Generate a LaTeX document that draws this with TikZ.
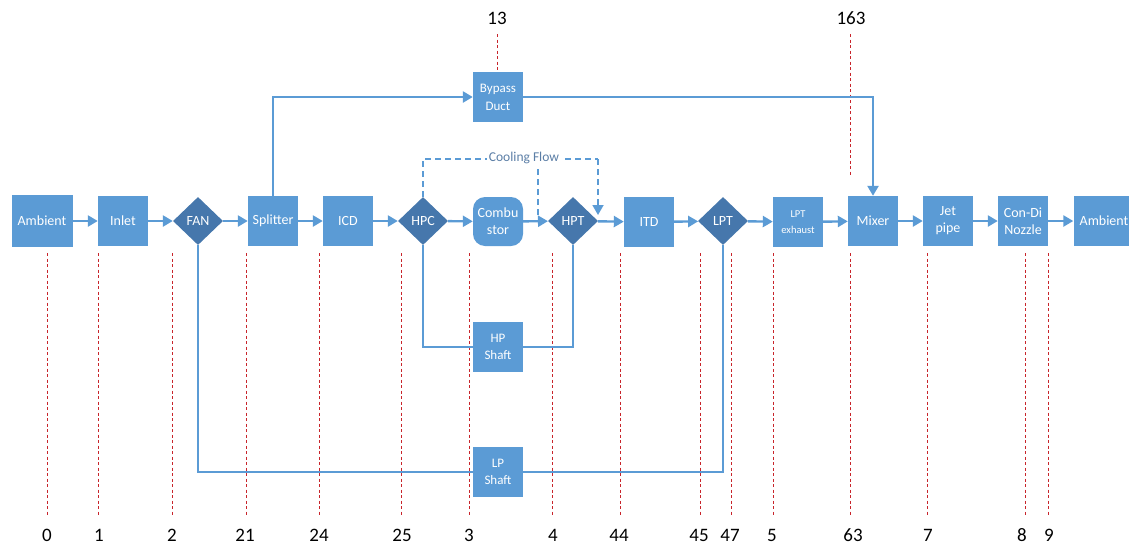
\documentclass[tikz,border=0pt]{standalone}
\usepackage{fontspec}
\setmainfont{Carlito}
\usetikzlibrary{arrows.meta,shapes.geometric}
\definecolor{boxblue}{HTML}{5B9BD5}
\definecolor{diablue}{HTML}{4677AC}
\definecolor{lineblue}{HTML}{5B9BD5}
\definecolor{coolgray}{HTML}{5B7EA6}
\definecolor{stationred}{HTML}{C8242B}
\tikzset{
  blk/.style={rectangle, fill=boxblue, draw=none, text=white, minimum width=50pt, minimum height=50pt, inner sep=1pt, align=center, font=\fontsize{14}{17}\selectfont},
  dia/.style={diamond, fill=diablue, draw=none, text=white, minimum width=50pt, minimum height=48pt, inner sep=0pt, shape aspect=1, font=\fontsize{14}{16}\selectfont},
  flow/.style={draw=lineblue, line width=2.4pt, -{Triangle[length=10pt,width=11pt]}},
  shaft/.style={draw=lineblue, line width=2.4pt},
  cool/.style={draw=lineblue, line width=1.8pt, dash pattern=on 6pt off 4pt},
  station/.style={draw=stationred, line width=0.8pt, dash pattern=on 3pt off 2.5pt},
  stlabel/.style={text=black, font=\fontsize{19}{21}\selectfont, inner sep=0pt}
}
\begin{document}
\begin{tikzpicture}[x=1pt,y=-1pt]
\useasboundingbox (0,0) rectangle (1129,544);
\clip (0,0) rectangle (1129,544);

% station lines (behind)
\foreach \n/\x/\lx in {0/47/47, 1/98/99, 2/172/172, 21/246/245, 24/319/319, 25/401/402, 3/469/469, 4/552/553, 44/620/619, 45/700/699, 47/731/730, 5/773/772, 63/850/853, 7/927/928, 8/1025/1022, 9/1048/1049}{
  \coordinate (st\n) at (\x,253);
  \coordinate (sb\n) at (\x,515);
  \node[stlabel] (lab\n) at (\lx,535) {\n};
  \draw[station] (st\n) -- (sb\n);
}
\node[stlabel] (lab13) at (497,18) {13};
\node[stlabel] (lab163) at (851,18) {163};
\coordinate (t13a) at (497,34);
\coordinate (t13b) at (497,72);
\coordinate (t163a) at (850,34);
\coordinate (t163b) at (850,176);
\draw[station] (t13a) -- (t13b);
\draw[station] (t163a) -- (t163b);

% main nodes
\node[blk, minimum width=61pt, minimum height=52pt] (amb0) at (42,221) {Ambient};
\node[blk] (inlet) at (123,221) {Inlet};
\node[dia] (fan) at (198,221) {FAN};
\node[blk] (split) at (273,221) {Splitter};
\node[blk] (icd) at (348,221) {ICD};
\node[dia] (hpc) at (423,221) {HPC};
\node[blk, rounded corners=12pt, minimum height=49pt] (comb) at (498,221.5) {Combu\\stor};
\node[dia] (hpt) at (573,221) {HPT};
\node[blk] (itd) at (649,222) {ITD};
\node[dia] (lpt) at (723,221) {LPT};
\node[blk, font=\fontsize{10.5}{16}\selectfont] (lptex) at (798,222) {LPT\\exhaust};
\node[blk] (mixer) at (873,221) {Mixer};
\node[blk] (jet) at (948,221) {Jet\\pipe};
\node[blk] (noz) at (1023,221) {Con-Di\\Nozzle};
\node[blk, minimum width=61pt] (amb9) at (1104,221) {Ambient};

\node[blk, font=\fontsize{13}{18}\selectfont] (bypass) at (498,97) {Bypass\\Duct};
\node[blk, font=\fontsize{13}{17}\selectfont] (hpsh) at (498,347) {HP\\Shaft};
\node[blk, font=\fontsize{13}{17}\selectfont] (lpsh) at (498,472) {LP\\Shaft};

% main flow
\draw[flow] (amb0) -- (inlet);
\draw[flow] (inlet) -- (fan);
\draw[flow] (fan) -- (split);
\draw[flow] (split) -- (icd);
\draw[flow] (icd) -- (hpc);
\draw[flow] (hpc) -- (comb);
\draw[flow] (comb) -- (hpt);
\draw[flow] (hpt) -- (itd);
\draw[flow] (itd) -- (lpt);
\draw[flow] (lpt) -- (lptex);
\draw[flow] (lptex) -- (mixer);
\draw[flow] (mixer) -- (jet);
\draw[flow] (jet) -- (noz);
\draw[flow] (noz) -- (amb9);

% bypass
\draw[flow] (split.north) |- (bypass.west);
\draw[flow] (bypass.east) -| (mixer.north);

% shafts
\draw[shaft] (hpc.south) |- (hpsh.west);
\draw[shaft] (hpsh.east) -| (hpt.south);
\draw[shaft] (fan.south) |- (lpsh.west);
\draw[shaft] (lpsh.east) -| (lpt.south);

% cooling flow
\coordinate (c1) at (423,159);
\coordinate (c2) at (598,159);
\coordinate (c3) at (598,215);
\coordinate (c4) at (538,159);
\coordinate (c5) at (538,218);
\draw[cool] (hpc.north) -- (c1) -- (c2);
\draw[cool, -{Triangle[length=10pt,width=11pt]}] (c2) -- (c3);
\draw[cool] (c4) -- (c5);
\node[fill=white, text=coolgray, inner sep=1.5pt, font=\fontsize{13.5}{15}\selectfont] (coollab) at (524,158) {Cooling Flow};
\end{tikzpicture}
\end{document}
